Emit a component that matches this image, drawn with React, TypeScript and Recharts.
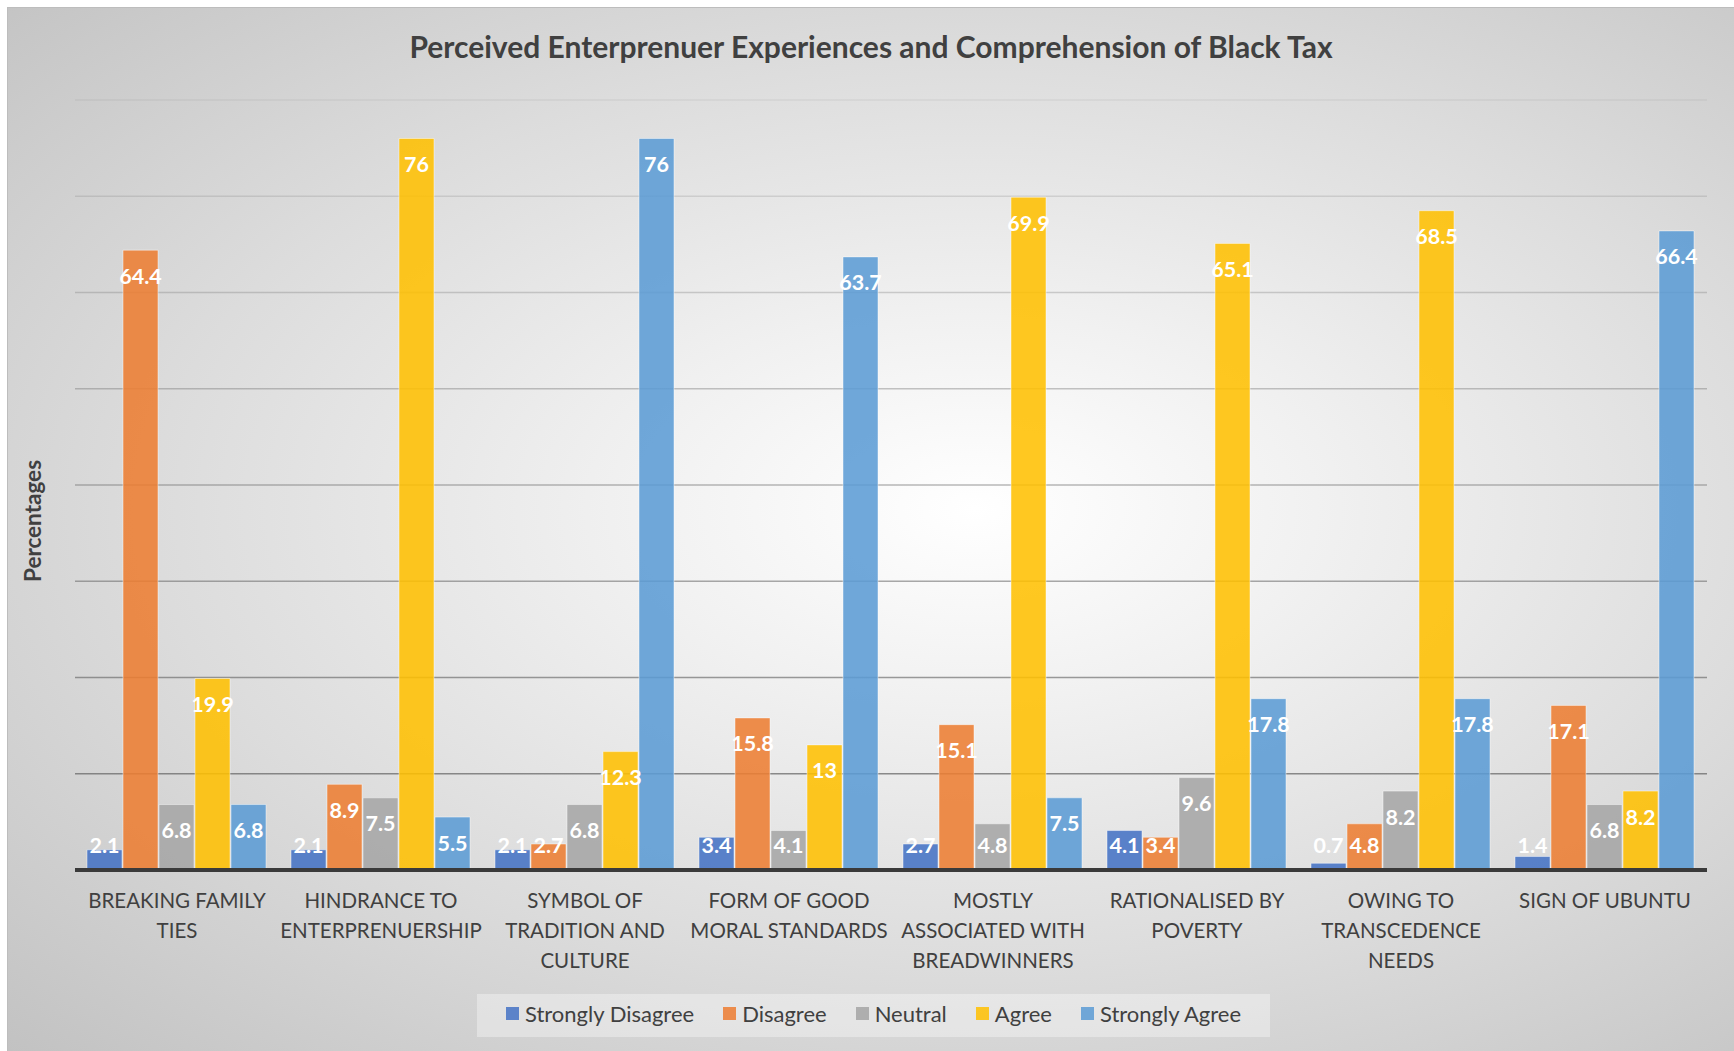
import { BarChart, Bar, XAxis, YAxis, CartesianGrid, Legend, LabelList } from 'recharts';

// category names, already broken into the lines shown under the axis
const categoryLines: string[][] = [
  ['BREAKING FAMILY', 'TIES'],
  ['HINDRANCE TO', 'ENTERPRENUERSHIP'],
  ['SYMBOL OF', 'TRADITION AND', 'CULTURE'],
  ['FORM OF GOOD', 'MORAL STANDARDS'],
  ['MOSTLY', 'ASSOCIATED WITH', 'BREADWINNERS'],
  ['RATIONALISED BY', 'POVERTY'],
  ['OWING TO', 'TRANSCEDENCE', 'NEEDS'],
  ['SIGN OF UBUNTU'],
];
const categories = categoryLines.map((l) => l.join(' '));

const stronglyDisagree = [2.1, 2.1, 2.1, 3.4, 2.7, 4.1, 0.7, 1.4];
const disagree = [64.4, 8.9, 2.7, 15.8, 15.1, 3.4, 4.8, 17.1];
const neutral = [6.8, 7.5, 6.8, 4.1, 4.8, 9.6, 8.2, 6.8];
const agree = [19.9, 76, 12.3, 13, 69.9, 65.1, 68.5, 8.2];
const stronglyAgree = [6.8, 5.5, 76, 63.7, 7.5, 17.8, 17.8, 66.4];

const yTicks = [0, 10, 20, 30, 40, 50, 60, 70, 80];

const SERIES = [
  { key: 'sd', name: 'Strongly Disagree', color: '#4472C4', values: stronglyDisagree },
  { key: 'd', name: 'Disagree', color: '#ED7D31', values: disagree },
  { key: 'n', name: 'Neutral', color: '#A5A5A5', values: neutral },
  { key: 'a', name: 'Agree', color: '#FFC000', values: agree },
  { key: 'sa', name: 'Strongly Agree', color: '#5B9BD5', values: stronglyAgree },
];

const data = categories.map((name, i) => {
  const row: Record<string, any> = { name };
  SERIES.forEach((s) => {
    row[s.key] = s.values[i];
  });
  return row;
});

const W = 1727;
const H = 1044;
const PLOT_TOP = 93;
const PLOT_BOTTOM = 863;
const FONT = 'Lato, "Open Sans", sans-serif';

const CategoryTick = (props: any) => {
  const { x, y, payload } = props;
  const lines = categoryLines[payload.index] ?? [payload.value];
  return (
    <g>
      {lines.map((line: string, i: number) => (
        <text
          key={i}
          x={x}
          y={y + 38 + i * 30}
          textAnchor="middle"
          fill="#404040"
          fontSize={20.5}
          fontFamily={FONT}
        >
          {line}
        </text>
      ))}
    </g>
  );
};

// y values are hidden in the original, but ticks must exist for the gridlines
const HiddenTick = () => <g />;

const ValueLabel = (props: any) => {
  const { x, y, width, height, value } = props;
  const cy = Math.min(y + 26, y + height - 25);
  return (
    <text
      x={x + width / 2}
      y={cy}
      dy="0.35em"
      textAnchor="middle"
      fill="#ffffff"
      fontSize={21.5}
      fontWeight={700}
      fontFamily={FONT}
    >
      {value}
    </text>
  );
};

// gridlines fade out towards the top, like the original
const GridLine = (props: any) => {
  const { x1, x2, y1 } = props;
  const t = Math.max(0, Math.min(1, (y1 - PLOT_TOP) / (PLOT_BOTTOM - PLOT_TOP)));
  const opacity = 0.1 + 0.75 * t;
  return <line x1={x1} x2={x2} y1={y1} y2={y1} stroke="#6a6a6a" strokeOpacity={opacity} strokeWidth={1.5} />;
};

const YTitle = () => (
  <text
    transform={`translate(24, 513) rotate(-90)`}
    textAnchor="middle"
    dominantBaseline="central"
    fill="#404040"
    fontSize={22.5}
    fontWeight={700}
    fontFamily={FONT}
  >
    Percentages
  </text>
);

const LegendContent = () => (
  <div
    style={{
      display: 'flex',
      justifyContent: 'center',
      alignItems: 'center',
      height: 43,
      paddingBottom: 4,
      boxSizing: 'border-box',
      background: 'rgba(255,255,255,0.35)',
      fontFamily: FONT,
      fontSize: 22,
      color: '#404040',
      gap: 29,
    }}
  >
    {SERIES.map((s) => (
      <div key={s.key} style={{ display: 'flex', alignItems: 'center' }}>
        <span
          style={{
            width: 13,
            height: 13,
            background: s.color,
            opacity: 0.85,
            marginRight: 6,
            display: 'inline-block',
          }}
        />
        {s.name}
      </div>
    ))}
  </div>
);

export default function App() {
  return (
    <div
      style={{
        position: 'absolute',
        left: 7,
        top: 7,
        width: W,
        height: H,
        boxSizing: 'border-box',
        borderTop: '1px solid #bdbdbd',
        borderLeft: '1px solid #bdbdbd',
        background:
          'radial-gradient(ellipse farthest-corner at 56% 48%, #ffffff 0%, #f1f1f1 25%, #dcdcdc 60%, #c2c2c2 100%)',
        fontFamily: FONT,
      }}
    >
      <div
        style={{
          position: 'absolute',
          top: 21,
          left: 0,
          width: '100%',
          textAlign: 'center',
          fontSize: 30,
          lineHeight: '34px',
          fontWeight: 700,
          color: '#404040',
        }}
      >
        Perceived Enterprenuer Experiences and Comprehension of Black Tax
      </div>
      <BarChart
        width={W - 1}
        height={H - 1}
        data={data}
        margin={{ top: PLOT_TOP - 1, right: 27, left: 0, bottom: H - PLOT_BOTTOM - 100 }}
        barCategoryGap={12}
        barGap={1}
      >
        <CartesianGrid vertical={false} horizontal={(p: any) => <GridLine key={p.key ?? p.index} {...p} />} />
        <XAxis
          dataKey="name"
          interval={0}
          height={100}
          tickSize={0}
          tickMargin={0}
          tickLine={false}
          axisLine={{ stroke: '#3a3a3a', strokeWidth: 4 }}
          tick={<CategoryTick />}
        />
        <YAxis
          width={67}
          domain={[0, 80]}
          ticks={yTicks}
          interval={0}
          tick={<HiddenTick />}
          tickLine={false}
          axisLine={false}
          label={{ content: () => <YTitle /> }}
        />
        <Legend
          layout="horizontal"
          verticalAlign="middle"
          align="center"
          content={<LegendContent />}
          wrapperStyle={{ top: 986, left: 469, width: 793, height: 43 }}
        />
        {SERIES.map((s) => (
          <Bar
            key={s.key}
            dataKey={s.key}
            name={s.name}
            fill={s.color}
            fillOpacity={0.87}
            stroke="#ffffff"
            strokeOpacity={0.45}
            strokeWidth={1}
            isAnimationActive={false}
          >
            <LabelList dataKey={s.key} content={<ValueLabel />} />
          </Bar>
        ))}
      </BarChart>
    </div>
  );
}
